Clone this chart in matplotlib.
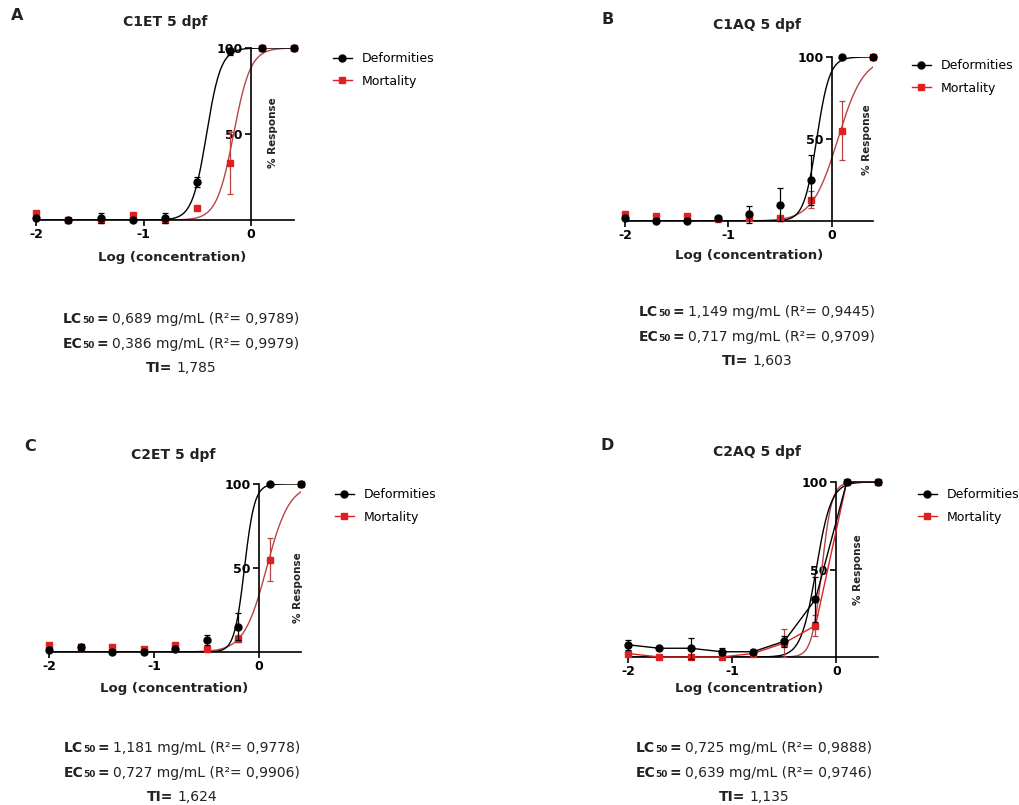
import numpy as np
import matplotlib
matplotlib.use("Agg")
import matplotlib.pyplot as plt

plt.rcParams['font.family'] = ['DejaVu Sans']

# log concentration of the tested doses
conc = [-2.0, -1.7, -1.4, -1.1, -0.8, -0.5, -0.2, 0.1, 0.4]

# panel A - C1ET
A_def = [1, 0, 1, 0, 1, 22, 98, 100, 100]
A_def_err = [1, 0, 3, 0, 3, 3, 2, 0, 0]
A_mort = [4, 0, 0, 3, 0, 7, 33, 100, 100]
A_mort_err = [1, 0, 0, 1, 0, 1, 18, 0, 0]

# panel B - C1AQ
B_def = [2, 0, 0, 2, 4, 10, 25, 100, 100]
B_def_err = [0, 0, 0, 1, 5, 10, 15, 0, 0]
B_mort = [4, 3, 3, 1, 2, 2, 13, 55, 100]
B_mort_err = [1, 0, 1, 0, 0, 1, 5, 18, 0]

# panel C - C2ET
C_def = [1, 3, 0, 0, 2, 7, 15, 100, 100]
C_def_err = [0, 2, 0, 0, 0, 3, 8, 0, 0]
C_mort = [4, 3, 3, 2, 4, 2, 8, 55, 100]
C_mort_err = [1, 0, 1, 0, 1, 0, 2, 13, 0]

# panel D - C2AQ
D_def = [7, 5, 5, 3, 3, 9, 33, 100, 100]
D_def_err = [3, 0, 6, 2, 1, 3, 13, 0, 0]
D_mort = [2, 0, 0, 0, 2, 8, 18, 100, 100]
D_mort_err = [0, 0, 0, 1, 0, 8, 6, 0, 0]

# fitted values (mg/mL) and hill slopes
ec50 = [0.386, 0.717, 0.727, 0.639]
lc50 = [0.689, 1.149, 1.181, 0.725]
hill_def = [6.5, 7.0, 9.0, 6.0]
hill_mort = [5.5, 3.5, 4.0, 9.0]
r2_def = ["0,9979", "0,9709", "0,9906", "0,9746"]
r2_mort = ["0,9789", "0,9445", "0,9778", "0,9888"]
ti = ["1,785", "1,603", "1,624", "1,135"]
titles = ["C1ET 5 dpf", "C1AQ 5 dpf", "C2ET 5 dpf", "C2AQ 5 dpf"]
letters = ["A", "B", "C", "D"]

RED = '#e02020'
RED_LINE = '#b84545'
W, H = 1019, 805

fig = plt.figure(figsize=(W / 100, H / 100), dpi=100)


def hill(x, logc50, h):
    return 100 / (1 + 10 ** ((logc50 - x) * h))


def fx(px):
    return px / W


def fy(py):
    return 1 - py / H


def rich_line(xc, yb, parts):
    # parts: (text, size, weight, gap_after_px)
    r = fig.canvas.get_renderer()
    objs, widths = [], []
    for s, size, weight, gap in parts:
        t = fig.text(0, fy(yb), s, fontsize=size, fontweight=weight,
                     va='baseline', ha='left', color='#222222')
        objs.append(t)
        widths.append(t.get_window_extent(r).width + gap)
    x = xc - sum(widths) / 2
    for t, w in zip(objs, widths):
        t.set_x(fx(x))
        x += w


# pixel geometry of each panel: x(-2), x(0.4), y(0), y(100)
geom = [(36, 294, 220, 48), (625, 873, 221, 57),
        (49, 301, 652, 484), (628, 878, 657, 482)]
title_pos = [(165, 22), (757, 25), (173, 455), (757, 452)]
letter_pos = [(17, 16), (608, 20), (30, 446), (607, 445)]
xlabel_pos = [(172, 257), (749, 255), (174, 688), (749, 688)]
ylabel_pos = [(273, 133), (867, 140), (298, 588), (858, 570)]
legend_pos = [(333, 70), (912, 77), (335, 506), (918, 506)]
text_pos = [(181, 323), (757, 316), (182, 752), (754, 752)]

defs = [A_def, B_def, C_def, D_def]
def_errs = [A_def_err, B_def_err, C_def_err, D_def_err]
morts = [A_mort, B_mort, C_mort, D_mort]
mort_errs = [A_mort_err, B_mort_err, C_mort_err, D_mort_err]

xs = np.linspace(-2, 0.4, 400)

for i in range(4):
    x0, x1, y0, y1 = geom[i]
    ax = fig.add_axes([fx(x0), fy(y0), fx(x1 - x0), (y0 - y1) / H])
    ax.set_xlim(-2, 0.4)
    ax.set_ylim(0, 100)

    connect = (i == 3)
    ax.plot(xs, hill(xs, np.log10(lc50[i]), hill_mort[i]), color=RED_LINE, lw=1, zorder=2)
    ax.plot(xs, hill(xs, np.log10(ec50[i]), hill_def[i]), color='black', lw=1, zorder=2)

    ax.errorbar(conc, morts[i], yerr=mort_errs[i], fmt='s', color=RED, ms=5,
                ecolor=RED_LINE, elinewidth=0.9, capsize=2.5, capthick=0.9,
                ls='-' if connect else 'none', lw=1, clip_on=False, zorder=3)
    ax.errorbar(conc, defs[i], yerr=def_errs[i], fmt='o', color='black', ms=5,
                ecolor='black', elinewidth=0.9, capsize=2.5, capthick=0.9,
                ls='-' if connect else 'none', lw=1, clip_on=False, zorder=4)

    for s in ['top', 'right']:
        ax.spines[s].set_visible(False)
    ax.spines['left'].set_position(('data', 0))
    ax.spines['left'].set_linewidth(1.2)
    ax.spines['bottom'].set_linewidth(1.2)
    ax.set_xticks([-2, -1, 0])
    ax.set_xticklabels(['-2', '-1', '0'])
    ax.set_yticks([50, 100])
    ax.set_yticklabels(['50', '100'])
    ax.tick_params(labelsize=9, width=1.2, length=4, pad=2)
    for lbl in ax.get_xticklabels() + ax.get_yticklabels():
        lbl.set_fontweight('bold')
    ax.patch.set_alpha(0)

    # legend handles
    hd, = ax.plot([], [], 'o-', color='black', ms=5, lw=1)
    hm, = ax.plot([], [], 's-', color=RED, ms=5, lw=1)
    lx, ly = legend_pos[i]
    fig.legend([hd, hm], ['Deformities', 'Mortality'], loc='center left',
               bbox_to_anchor=(fx(lx), fy(ly)), frameon=False, fontsize=9,
               handlelength=1.5, handletextpad=0.8, labelspacing=0.75,
               borderpad=0, borderaxespad=0)

    tx, ty = title_pos[i]
    fig.text(fx(tx), fy(ty), titles[i], ha='center', va='center',
             fontsize=10, fontweight='bold', color='#222222')
    lx, ly = letter_pos[i]
    fig.text(fx(lx), fy(ly), letters[i], ha='center', va='center',
             fontsize=11.5, fontweight='bold', color='#222222')
    lx, ly = xlabel_pos[i]
    fig.text(fx(lx), fy(ly), 'Log (concentration)', ha='center', va='center',
             fontsize=9.5, fontweight='bold', color='#222222')
    lx, ly = ylabel_pos[i]
    fig.text(fx(lx), fy(ly), '% Response', ha='center', va='center', rotation=90,
             fontsize=7.5, fontweight='bold', color='#222222')

    cx, by = text_pos[i]
    rich_line(cx, by, [('LC', 10, 'bold', 0), ('50', 6.5, 'bold', 2), ('=', 10, 'bold', 4),
                       ('%.3f mg/mL (R²= %s)' % (lc50[i], r2_mort[i]), 10, 'normal', 0)])
    rich_line(cx, by + 24.5, [('EC', 10, 'bold', 0), ('50', 6.5, 'bold', 2), ('=', 10, 'bold', 4),
                              ('%.3f mg/mL (R²= %s)' % (ec50[i], r2_def[i]), 10, 'normal', 0)])
    rich_line(cx, by + 49, [('TI=', 10, 'bold', 4), (ti[i], 10, 'normal', 0)])

# decimal comma as in the original figure
for t in fig.texts:
    s = t.get_text()
    if 'mg/mL' in s:
        t.set_text(s.replace('.', ',', 1))

fig.savefig('out.png', dpi=100)
